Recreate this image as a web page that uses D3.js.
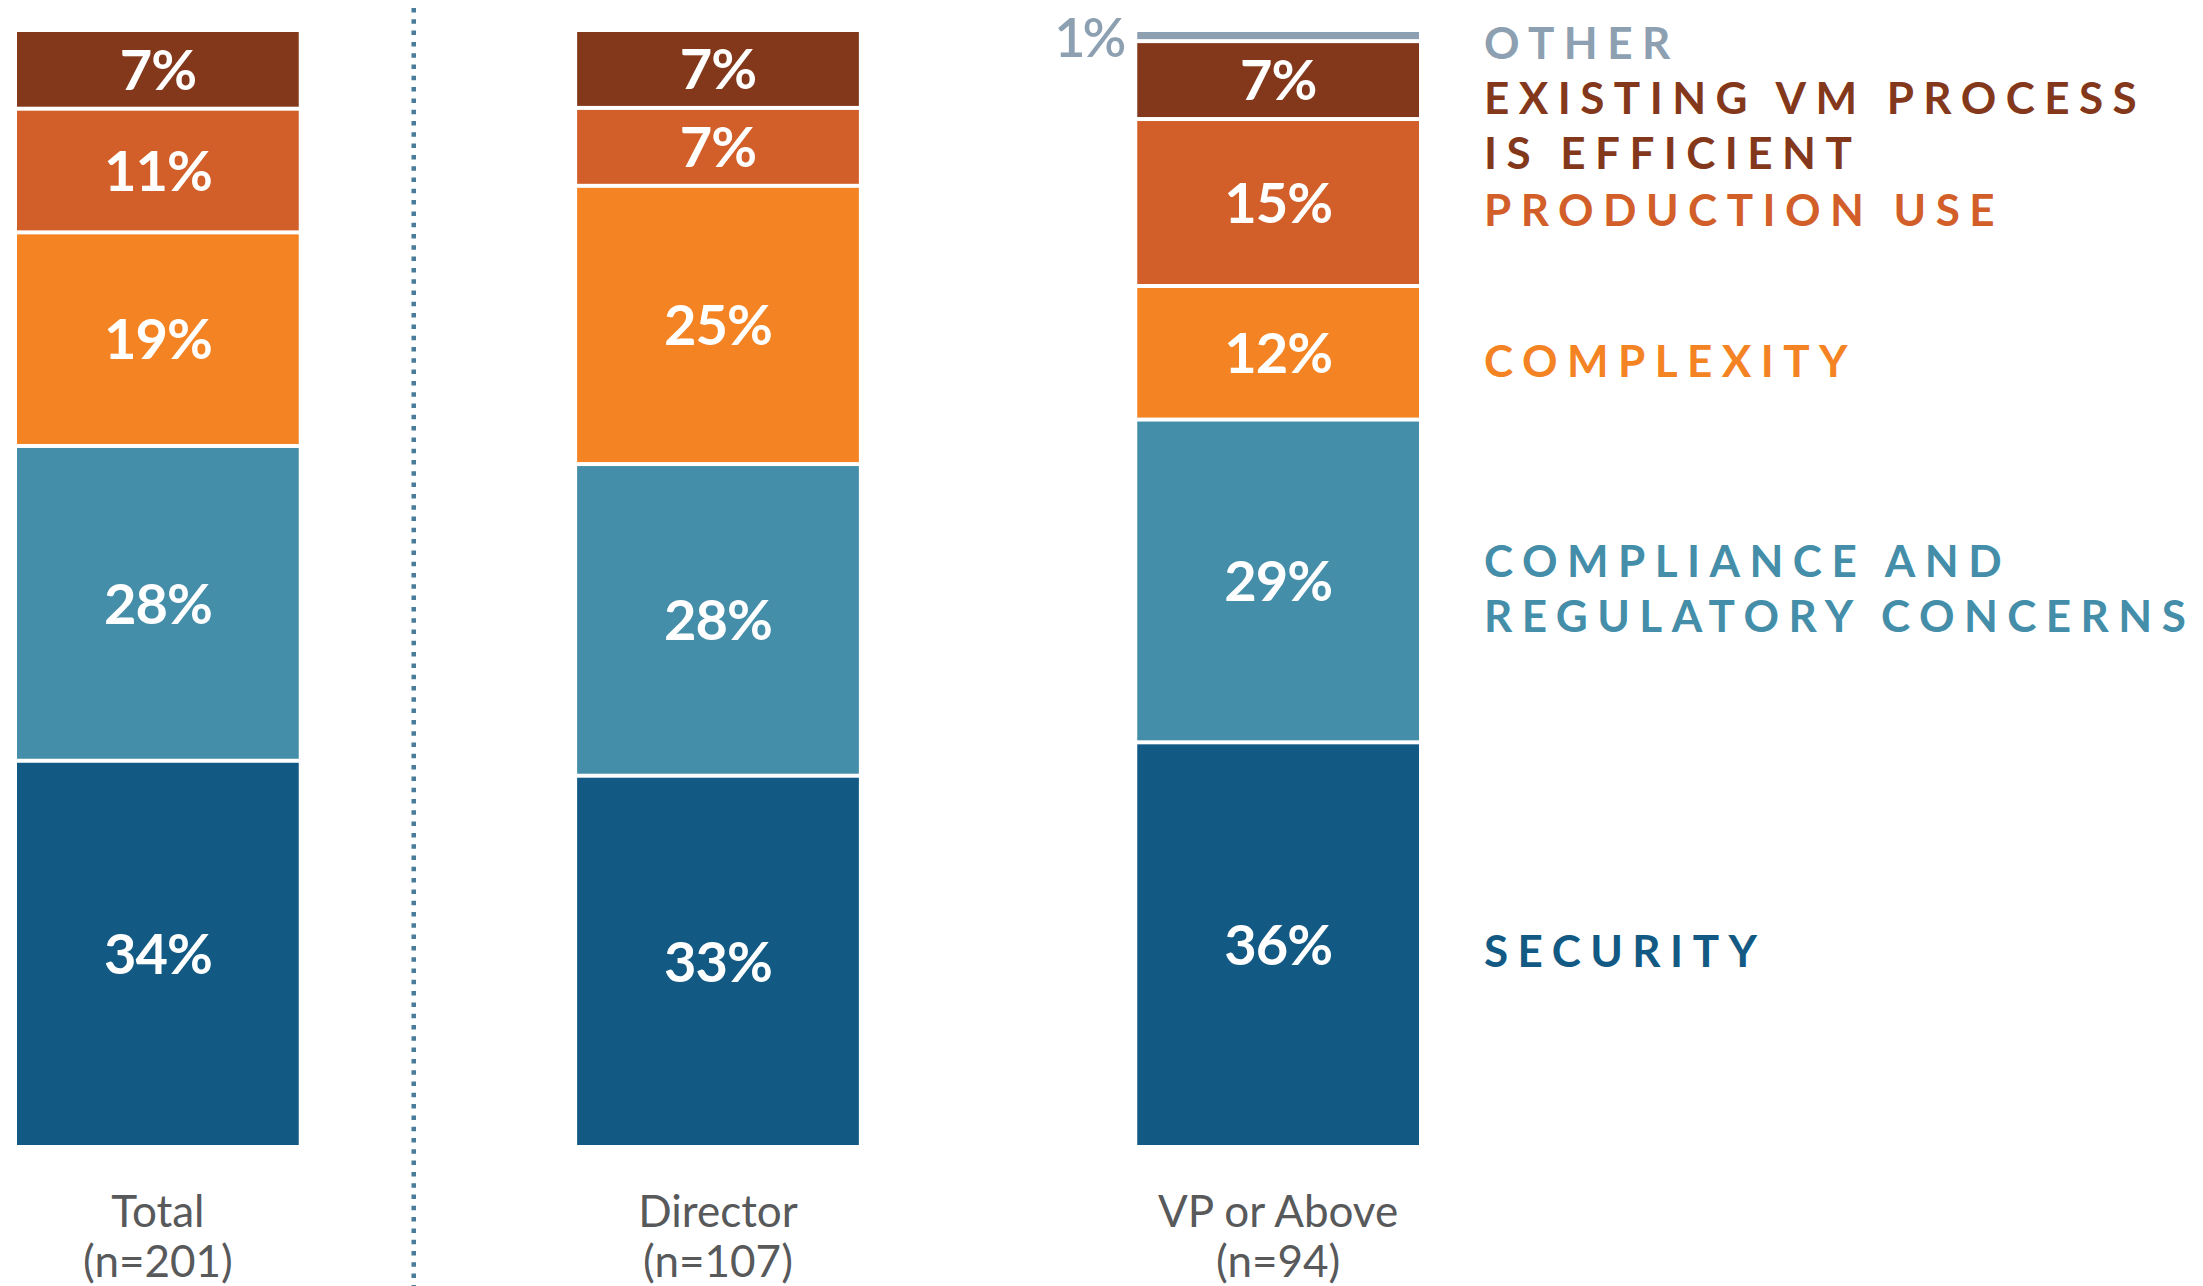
<!DOCTYPE html>
<head>
  <meta charset="utf-8">
  <style>
    body { margin: 0; background: #fff; }
    text { font-family: Lato, "Open Sans", sans-serif; }
  </style>
</head>
<body>
<script src="https://cdn.jsdelivr.net/npm/d3@7"></script>
<script>

var categories = ["Total", "Director", "VP or Above"];
var sampleSizes = ["(n=201)", "(n=107)", "(n=94)"];

var seriesKeys = ["security", "compliance", "complexity", "production", "existing", "other"];
var legendLines = [
  ["SECURITY"],
  ["COMPLIANCE AND", "REGULATORY CONCERNS"],
  ["COMPLEXITY"],
  ["PRODUCTION USE"],
  ["EXISTING VM PROCESS", "IS EFFICIENT"],
  ["OTHER"]
];
var colours = ["#125a84", "#448ea9", "#f38323", "#d25f29", "#84381b", "#8ca0b1"];

var security   = [34, 33, 36];
var compliance = [28, 28, 29];
var complexity = [19, 25, 12];
var production = [11, 7, 15];
var existing   = [7, 7, 7];
var other      = [0, 0, 1];

var values = [security, compliance, complexity, production, existing, other];

var width = 2203, height = 1286;
var barTop = 32, barBottom = 1145, gap = 4;

var data = categories.map(function(c, i) {
  var row = { category: c, n: sampleSizes[i] };
  seriesKeys.forEach(function(k, j) { row[k] = values[j][i]; });
  return row;
});

var svg = d3.select("body").append("svg")
    .attr("width", width)
    .attr("height", height);

var x = d3.scaleBand()
    .domain(categories)
    .range([17, 1419])
    .paddingInner(0.497)
    .paddingOuter(0);

var y = d3.scaleLinear()
    .domain([0, 1])
    .range([barBottom, barTop]);

// bars are rounded, so each column is stretched to full height
var stack = d3.stack()
    .keys(seriesKeys)
    .offset(d3.stackOffsetExpand);

var series = stack(data);

// dotted separator after "Total"
var sepX = x(categories[0]) + x.bandwidth() + 115;
svg.append("line")
    .attr("x1", sepX).attr("x2", sepX)
    .attr("y1", 8).attr("y2", height)
    .attr("stroke", "#4a7b98")
    .attr("stroke-width", 4.5)
    .attr("stroke-dasharray", "4.5,6.8");

var layer = svg.selectAll(".layer")
    .data(series)
    .enter().append("g")
      .attr("class", "layer")
      .attr("fill", function(d, i) { return colours[i]; });

layer.selectAll("rect")
    .data(function(d) { return d.filter(function(p) { return p[1] - p[0] > 0; }); })
    .enter().append("rect")
      .attr("x", function(d) { return x(d.data.category); })
      .attr("width", x.bandwidth())
      .attr("y", function(d) { return y(d[1]); })
      .attr("height", function(d) {
        return y(d[0]) - y(d[1]) - (d[0] > 0 ? gap : 0);
      });

// value labels
layer.selectAll("text")
    .data(function(d) {
      var key = d.key;
      return d.filter(function(p) { return p[1] - p[0] > 0; })
              .map(function(p) { p.key = key; return p; });
    })
    .enter().append("text")
      .each(function(d) {
        var t = d3.select(this);
        var h = y(d[0]) - y(d[1]);
        var cy = (y(d[0]) + y(d[1]) - (d[0] > 0 ? gap : 0)) / 2;
        var v = d.data[d.key];
        t.text(v + "%").attr("y", cy).attr("dy", "0.36em");
        if (h < 40) {
          t.attr("x", x(d.data.category) - 14)
           .attr("y", cy + 2)
           .attr("text-anchor", "end")
           .attr("fill", colours[seriesKeys.indexOf(d.key)])
           .style("font-size", "54px")
           .style("font-weight", "600")
           .style("letter-spacing", "-3px");
        } else {
          t.attr("x", x(d.data.category) + x.bandwidth() / 2)
           .attr("text-anchor", "middle")
           .attr("fill", "#fff")
           .style("font-size", "56px")
           .style("font-weight", "bold")
           .style("letter-spacing", "-1px");
        }
      });

// category labels
var catLabel = svg.selectAll(".cat")
    .data(data)
    .enter().append("text")
      .attr("class", "cat")
      .attr("text-anchor", "middle")
      .attr("fill", "#58595b")
      .style("font-size", "44px")
      .attr("transform", function(d) {
        return "translate(" + (x(d.category) + x.bandwidth() / 2) + ",0)";
      });

catLabel.append("tspan").attr("x", 0).attr("y", 1227).text(function(d) { return d.category; });
catLabel.append("tspan").attr("x", 0).attr("y", 1277).text(function(d) { return d.n; });

// legend, placed beside the last column and pushed apart where labels would overlap
var lastCol = categories.length - 1;
var lineH = 55;
var legendX = 1484;
var legendShift = 6;
var prevBottom = -Infinity;
var placed = [];
for (var s = series.length - 1; s >= 0; s--) {
  var seg = series[s][lastCol];
  var segMid = (y(seg[0]) + y(seg[1])) / 2 + legendShift;
  var blockH = legendLines[s].length * lineH;
  var blockTop = Math.max(segMid - blockH / 2, prevBottom);
  prevBottom = blockTop + blockH;
  placed.push({ i: s, top: blockTop });
}

var legend = svg.selectAll(".legend")
    .data(placed)
    .enter().append("text")
      .attr("class", "legend")
      .attr("fill", function(d) { return colours[d.i]; })
      .style("font-size", "44px")
      .style("font-weight", "bold")
      .style("letter-spacing", "0.215em");

legend.selectAll("tspan")
    .data(function(d) {
      return legendLines[d.i].map(function(l, k) { return { text: l, ly: d.top + lineH * (k + 0.5) }; });
    })
    .enter().append("tspan")
      .attr("x", legendX)
      .attr("y", function(d) { return d.ly; })
      .attr("dy", "0.36em")
      .text(function(d) { return d.text; });

</script>
</body>
